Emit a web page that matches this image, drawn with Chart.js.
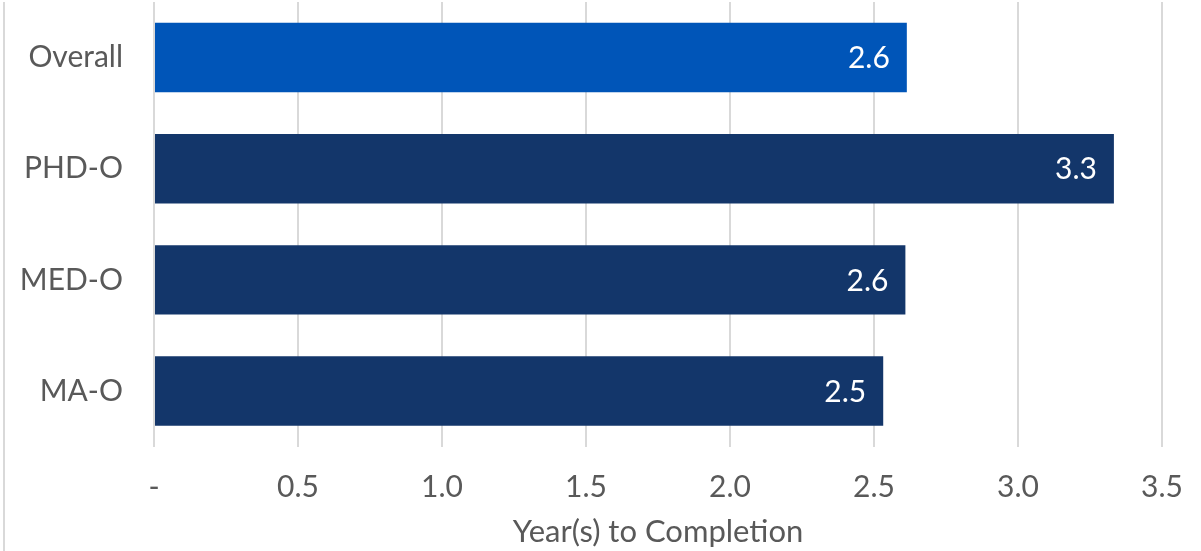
<!DOCTYPE html>
<html>
<head>
<meta charset="utf-8">
<script src="https://cdn.jsdelivr.net/npm/chart.js@4"></script>
<style>
  html, body { margin: 0; padding: 0; background: #ffffff; }
  #wrap { position: relative; width: 1201px; height: 551px; }
  #border { position: absolute; left: 3px; top: 2px; width: 2px; height: 549px; background: #d9d9d9; }
  canvas { position: absolute; left: 0; top: 0; }
</style>
</head>
<body>
<div id="wrap">
  <canvas id="c" width="1201" height="551"></canvas>
  <div id="border"></div>
</div>
<script>
const categories = ["Overall", "PHD-O", "MED-O", "MA-O"];
const years = [2.614, 3.333, 2.609, 2.532];
const barColors = ["#0055b8", "#13366a", "#13366a", "#13366a"];
const xTicks = [0, 0.5, 1.0, 1.5, 2.0, 2.5, 3.0, 3.5];
const xTitle = "Year(s) to Completion";

const FONT = "Lato, 'Open Sans', sans-serif";
const TXT = "#595959";

const valueLabels = {
  id: "valueLabels",
  afterDatasetsDraw(chart) {
    const ctx = chart.ctx;
    const meta = chart.getDatasetMeta(0);
    ctx.save();
    ctx.font = "30px " + FONT;
    ctx.fillStyle = "#ffffff";
    ctx.textAlign = "right";
    ctx.textBaseline = "middle";
    meta.data.forEach((bar, i) => {
      ctx.fillText(years[i].toFixed(1), bar.x - 17, bar.y + 1);
    });
    ctx.restore();
  }
};

const chart = new Chart(document.getElementById("c"), {
  type: "bar",
  data: {
    labels: categories,
    datasets: [{
      data: years,
      backgroundColor: barColors,
      borderWidth: 0,
      categoryPercentage: 1,
      barPercentage: 0.625
    }]
  },
  options: {
    indexAxis: "y",
    responsive: false,
    animation: false,
    layout: { padding: { left: 0, right: 39, top: 2, bottom: 0 } },
    plugins: { legend: { display: false }, tooltip: { enabled: false } },
    scales: {
      y: {
        grid: { display: false, drawTicks: false },
        border: { display: false },
        ticks: { color: TXT, font: { family: FONT, size: 30 }, padding: 31 },
        afterFit(scale) { scale.width = 154; scale.paddingTop = 0; scale.paddingBottom = 0; }
      },
      x: {
        min: 0, max: 3.5,
        afterBuildTicks(scale) { scale.ticks = xTicks.map(v => ({ value: v })); },
        grid: { color: "#d9d9d9", lineWidth: 2, drawTicks: false },
        border: { display: false },
        ticks: {
          color: TXT, font: { family: FONT, size: 30 }, padding: 23,
          callback: (v) => v === 0 ? "-" : Number(v).toFixed(1)
        },
        title: { display: true, text: xTitle, color: TXT, font: { family: FONT, size: 31 }, padding: { top: 4, bottom: 0 } },
        afterFit(scale) { scale.height = 104.4; scale.paddingRight = 0; scale.paddingLeft = 0; }
      }
    }
  },
  plugins: [valueLabels]
});
</script>
</body>
</html>
